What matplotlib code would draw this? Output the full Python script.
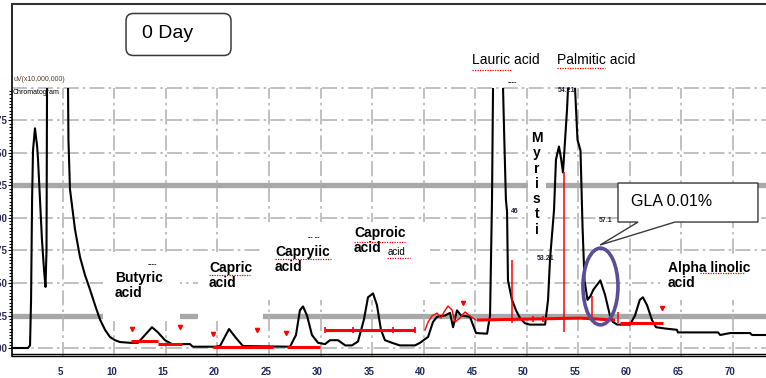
import numpy as np
import matplotlib.pyplot as plt
from matplotlib.patches import Rectangle, Ellipse, FancyBboxPatch, Polygon
from matplotlib.ticker import FixedLocator
import matplotlib.transforms as mtransforms

plt.rcParams['font.family'] = ['Liberation Sans', 'DejaVu Sans']

## Chromatogram trace: retention time [min] and detector signal [uV x 10,000,000]
t_trace = [0.05, 1.6, 1.8, 1.9, 2.0, 2.09, 2.28, 2.38, 2.48, 2.57, 2.77, 2.96, 3.16, 3.30, 3.40,
           3.45, 3.5, 5.4, 5.49, 5.53, 5.68, 5.87, 6.17, 6.65, 7.14, 7.62, 8.11, 8.59, 9.08, 9.56,
           10.05, 10.53, 11.5, 12.28, 12.96, 13.64, 14.22, 14.9, 15.58, 17.33, 17.6, 19.76, 20.24,
           21.12, 21.8, 22.47, 27.04, 27.62, 28.0, 28.3, 28.69, 29.17, 29.76, 30.44, 30.92, 31.7,
           32.4, 33.05, 33.64, 34.22, 34.61, 35.1, 35.48, 35.87, 36.26, 36.94, 37.7, 39.17, 39.66,
           40.44, 40.92, 41.31, 42.09, 42.57, 42.87, 43.25, 43.64, 44.51, 45.10, 46.17, 46.46,
           46.65, 46.75, 46.85, 47.6, 47.72, 47.82, 48.0, 48.11, 48.2, 48.59, 48.98, 49.37, 49.85,
           50.34, 51.8, 52.09, 52.28, 52.67, 52.86, 53.15, 53.35, 53.54, 53.74, 53.93, 54.03,
           54.21, 54.71, 54.95, 55.24, 55.44, 55.63, 55.92, 56.21, 56.5, 57.17, 57.62, 58.1, 58.4,
           58.8, 60.05, 60.53, 61.0, 61.3, 61.7, 62.18, 62.57, 63.44, 64.6, 64.7, 68.6, 68.8,
           69.76, 71.7, 71.9, 73.25]
i_trace = [0.0, 0.0, 0.02, 0.37, 1.14, 1.52, 1.69, 1.62, 1.56, 1.46, 1.14, 0.83, 0.60, 0.47, 0.75,
           2.0, 2.6, 2.6, 1.98, 1.60, 1.22, 1.10, 0.91, 0.70, 0.56, 0.45, 0.33, 0.22, 0.14, 0.085,
           0.06, 0.046, 0.04, 0.04, 0.10, 0.16, 0.12, 0.06, 0.03, 0.03, 0.01, 0.01, 0.015,
           0.146, 0.077, 0.015, 0.01, 0.10, 0.29, 0.32, 0.25, 0.10, 0.04, 0.03, 0.06, 0.06,
           0.02, 0.02, 0.05, 0.22, 0.39, 0.42, 0.33, 0.14, 0.06, 0.04, 0.02, 0.02, 0.04,
           0.085, 0.20, 0.24, 0.25, 0.27, 0.16, 0.29, 0.25, 0.24, 0.115, 0.11, 0.25,
           1.14, 2.0, 2.6, 2.6, 2.0, 1.68, 1.14, 1.05, 0.52, 0.37, 0.29, 0.23, 0.19,
           0.18, 0.18, 0.37, 0.68, 1.06, 1.45, 1.55, 1.46, 1.35, 1.60, 1.83, 2.0,
           2.3, 2.0, 1.60, 1.52, 0.93, 0.52, 0.37, 0.40, 0.45, 0.52, 0.41, 0.25, 0.20,
           0.18, 0.18, 0.25, 0.37, 0.39, 0.33, 0.215, 0.16, 0.15, 0.14, 0.12, 0.12, 0.10,
           0.115, 0.115, 0.10, 0.10]

## Integration baselines (red)
base_t0 = [11.65, 14.22, 19.56, 26.75, 30.44, 45.2, 55.2, 59.08]
base_t1 = [14.22, 16.55, 25.39, 29.95, 39.17, 55.2, 58.59, 63.25]
base_v0 = [0.054, 0.031, 0.008, 0.008, 0.138, 0.215, 0.23, 0.19]
base_v1 = [0.054, 0.031, 0.008, 0.008, 0.138, 0.23, 0.215, 0.19]
squig_t = [40.15, 40.44, 40.83, 41.31, 41.7, 41.99, 42.38, 42.77, 43.06, 43.54, 44.03, 44.51, 45.1]
squig_v = [0.138, 0.2, 0.246, 0.269, 0.231, 0.277, 0.323, 0.292, 0.2, 0.231, 0.277, 0.246, 0.215]
drop_t = [48.59, 53.6, 56.36, 58.88]
drop_top = [0.68, 1.35, 0.40, 0.277]
drop_bot = [0.19, 0.12, 0.215, 0.19]
mark_t = [11.7, 16.36, 19.56, 23.83, 26.65, 43.84, 63.16]
mark_v = [0.146, 0.16, 0.108, 0.138, 0.115, 0.346, 0.308]
tick_t = [30.44, 33.2, 37.0, 39.17, 50.63, 51.6]
tick_v = [0.138, 0.138, 0.138, 0.138, 0.225, 0.225]

## Peak names
peak_names = ["Butyric\nacid", "Capric\nacid", "Capryiic\nacid", "Caproic\nacid",
              "Alpha linolic\nacid"]
name_t = [10.05, 19.17, 25.58, 33.25, 63.74]
name_v = [0.595, 0.67, 0.795, 0.94, 0.67]
top_names = ["Lauric acid", "Palmitic acid"]
top_t = [44.7, 52.96]

## Retention time tags printed next to peaks
rt_tags = ["46", "54.21", "57.1", "53.21"]
rt_t = [48.9, 53.93, 57.7, 51.9]
rt_v = [1.05, 1.98, 0.98, 0.69]

x_ticks = list(range(5, 71, 5))
y_ticks = [0.0, 0.25, 0.5, 0.75, 1.0, 1.25, 1.5, 1.75]

fig = plt.figure(figsize=(7.66, 3.78), dpi=100)
ax = fig.add_axes([12 / 766, 22 / 378, 754 / 766, 352 / 378])
ax.set_xlim(0.05, 73.25)
ax.set_ylim(-0.0615, 2.646)

# grid: dash-dot lines, two heavy bands
dd = (0, (9, 2.5, 1.5, 2.5))
thin = [v for v in np.arange(0, 2.01, 0.25) if v not in (0.25, 1.25)]
ax.hlines(thin, 0.05, 73.25, colors='#b5b5b5', lw=1.2, linestyles=[dd], zorder=1)
ax.hlines([0.25, 1.25], 0.05, 73.25, colors='#a8a8a8', lw=3.8, zorder=1)
ax.vlines(x_ticks, -0.07, 2.0, colors='#b5b5b5', lw=1.2, linestyles=[dd], zorder=1)

# white label areas cut through the grid
for x0, y0, w, h in [(8.88, 0.21, 7.48, 0.53), (18.11, 0.21, 6.31, 0.53),
                     (24.42, 0.369, 16.21, 0.60), (50.15, 0.86, 1.75, 0.83),
                     (62.96, 0.369, 10.4, 0.35)]:
    ax.add_patch(Rectangle((x0, y0), w, h, fc='white', ec='none', zorder=2))

# trace, clipped at the top of the detector range
clip = Rectangle((-1, -1), 80, 3.0, transform=ax.transData)
line, = ax.plot(t_trace, i_trace, color='black', lw=1.5, zorder=3)
line.set_clip_path(clip)

# integration marks
for a, b, c, d in zip(base_t0, base_t1, base_v0, base_v1):
    ax.plot([a, b], [c, d], color='red', lw=2.2, zorder=4, solid_capstyle='butt')
ax.plot(squig_t, squig_v, color='red', lw=1.0, zorder=4)
ax.vlines(drop_t, drop_bot, drop_top, colors='red', lw=1.1, zorder=4)
ax.plot(mark_t, mark_v, ls='none', marker='v', ms=3, color='red', zorder=4)
ax.plot(tick_t, tick_v, ls='none', marker='|', ms=5, mew=1.2, color='red', zorder=4)

# peak labels
for s, x, y in zip(peak_names, name_t, name_v):
    ax.text(x, y, s, ha='left', va='top', fontsize=10, fontweight='bold',
            linespacing=1.1, zorder=6)
ax.text(36.5, 0.78, "acid", ha='left', va='top', fontsize=7, zorder=6)
for s, x in zip(top_names, top_t):
    ax.text(x, 2.27, s, ha='left', va='top', fontsize=10, zorder=6)
for k, ch in enumerate("Myristi"):
    ax.text(51.0, 1.585 - k * 0.1177, ch, ha='center', va='baseline', fontsize=10,
            fontweight='bold', zorder=6)
for s, x, y in zip(rt_tags, rt_t, rt_v):
    ax.text(x, y, s, ha='center', va='center', fontsize=5, fontweight='bold',
            color='#22223a', zorder=6)
for x, y, s in [(13.64, 0.64, "----"), (29.3, 0.85, "-- --"), (48.6, 2.04, "----")]:
    ax.text(x, y, s, ha='center', va='center', fontsize=5, fontweight='bold', zorder=6)

# spell-check underlines
for a, b, y in [(19.17, 23.2, 0.565), (25.6, 31.0, 0.685), (33.25, 38.2, 0.815),
                (36.5, 38.7, 0.695), (44.7, 48.5, 2.14), (52.96, 57.6, 2.15),
                (66.8, 71.2, 0.575)]:
    ax.plot([a, b], [y, y], color='red', lw=0.9, ls=(0, (1, 1)), zorder=6)

# detector header
ax.text(0.15, 2.09, "uV(x10,000,000)", ha='left', va='top', fontsize=5,
        color='#5a3a20', zorder=6)
ax.text(0.15, 1.99, "Chromatogram", ha='left', va='top', fontsize=5, zorder=6)

# "0 Day" box
ax.add_patch(FancyBboxPatch((11.12, 2.25), 10.19, 0.323,
                            boxstyle="round,pad=0,rounding_size=0.7",
                            mutation_aspect=0.0792, fc='white', ec='#3a3a3a', lw=1.1,
                            zorder=5))
ax.text(12.67, 2.42, "0 Day", ha='left', va='center', fontsize=14, zorder=6)

# GLA callout and circled peak
ax.add_patch(Polygon([(58.88, 1.269), (72.47, 1.269), (72.47, 0.969), (64.42, 0.969),
                      (57.14, 0.792), (60.83, 0.969), (58.88, 0.969)],
                     closed=True, fc='white', ec='#3a3a3a', lw=1.0, zorder=5))
ax.text(60.15, 1.13, "GLA 0.01%", ha='left', va='center', fontsize=11.5, zorder=6)
ax.add_patch(Ellipse((57.18, 0.473), 3.4, 0.59, fill=False, ec='#5b4d96', lw=2.6,
                     zorder=5))

# axes and ticks
ax.spines['right'].set_visible(False)
ax.spines['top'].set_color('#333333')
ax.spines['top'].set_linewidth(1.5)
ax.spines['left'].set_linewidth(1.2)
ax.spines['bottom'].set_linewidth(1.0)
ax.axhline(-0.046, color='black', lw=1.0, zorder=3)

ax.set_xticks(x_ticks)
ax.set_xticklabels([str(x) for x in x_ticks])
ax.tick_params(axis='x', length=0, pad=8, labelsize=7, labelcolor='#1c2a66')
for lab in ax.get_xticklabels():
    lab.set_fontweight('bold')
    lab.set_transform(lab.get_transform() +
                      mtransforms.ScaledTranslation(-0.03, 0, fig.dpi_scale_trans))

ax.set_yticks(y_ticks)
ax.set_yticklabels([f"{v:.2f}" for v in y_ticks])
ax.yaxis.set_minor_locator(FixedLocator(np.arange(0, 2.0, 0.025)))
ax.tick_params(axis='y', which='major', length=3, width=0.8, pad=0.5, labelsize=7,
               labelcolor='#2b2b55')
ax.tick_params(axis='y', which='minor', length=2, width=0.8)
for lab in ax.get_yticklabels():
    lab.set_fontweight('bold')

fig.savefig('out.png', dpi=100)
